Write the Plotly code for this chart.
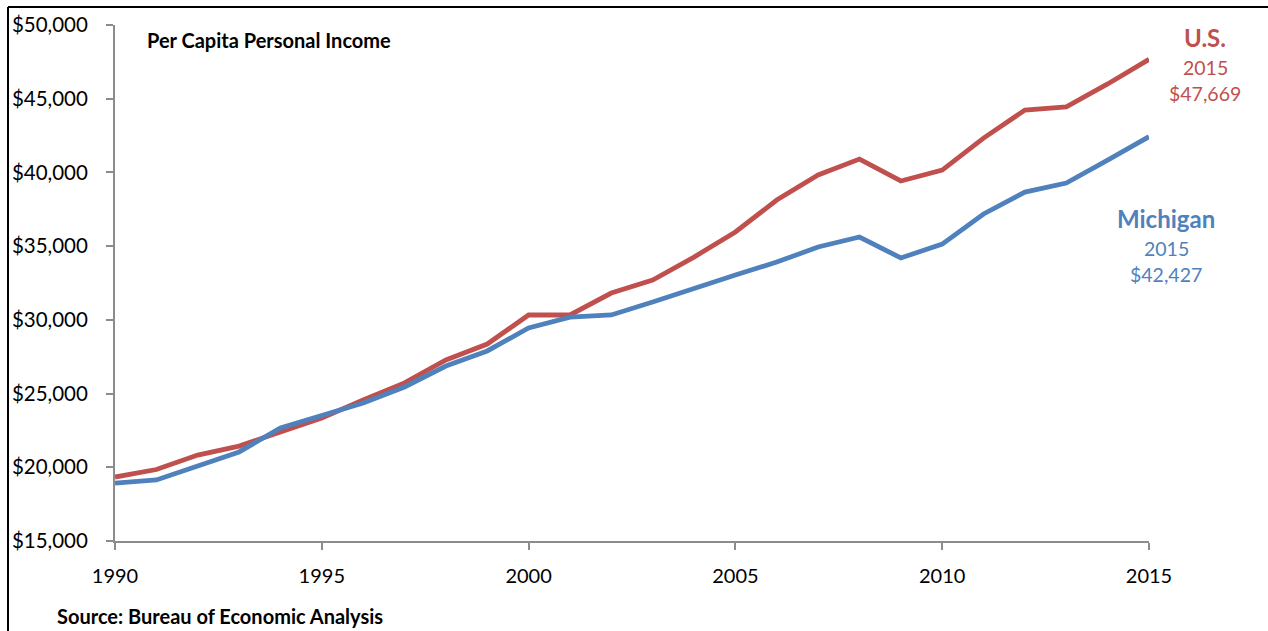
import plotly.graph_objects as go

years = list(range(1990, 2016))
us_income = [19340, 19850, 20830, 21440, 22390, 23340, 24560, 25720, 27280, 28360,
             30330, 30330, 31820, 32700, 34260, 35960, 38130, 39830, 40910, 39420,
             40160, 42330, 44230, 44440, 46000, 47669]
mi_income = [18930, 19140, 20090, 21040, 22670, 23550, 24360, 25450, 26870, 27890,
             29450, 30190, 30330, 31210, 32160, 33040, 33920, 34940, 35620, 34200,
             35140, 37180, 38670, 39280, 40840, 42427]
y_ticks = [15000, 20000, 25000, 30000, 35000, 40000, 45000, 50000]
x_ticks = [1990, 1995, 2000, 2005, 2010, 2015]

RED = "#C0504D"
BLUE = "#4F81BD"
FONT = "Lato, 'Open Sans', sans-serif"

fig = go.Figure()
fig.add_trace(go.Scatter(x=years, y=us_income, mode="lines", name="U.S.",
                         line=dict(color=RED, width=4.8)))
fig.add_trace(go.Scatter(x=years, y=mi_income, mode="lines", name="Michigan",
                         line=dict(color=BLUE, width=4.8)))

W, H = 1268, 631
L, R, T, B = 115, 119, 25, 90
pw, ph = W - L - R, H - T - B

def px(xp):
    return (xp - L) / pw

def py(yp):
    return (H - B - yp) / ph

fig.update_layout(
    width=W, height=H,
    margin=dict(l=L, r=R, t=T, b=B),
    paper_bgcolor="white", plot_bgcolor="white",
    showlegend=False,
    font=dict(family=FONT, color="black"),
    xaxis=dict(range=[1990, 2015], tickvals=x_ticks, ticktext=[str(v) for v in x_ticks],
               showgrid=False, zeroline=False, showline=True, linecolor="#8c8c8c", linewidth=2,
               ticks="outside", ticklen=7, tickwidth=2, tickcolor="#8c8c8c",
               tickfont=dict(size=20, family=FONT, color="black"), ticklabelstandoff=9),
    yaxis=dict(range=[15000, 50000], tickvals=y_ticks,
               ticktext=[f"${v:,}" for v in y_ticks],
               showgrid=False, zeroline=False, showline=True, linecolor="#8c8c8c", linewidth=2,
               ticks="outside", ticklen=7, tickwidth=2, tickcolor="#8c8c8c",
               tickfont=dict(size=20.5, family=FONT, color="black"), ticklabelstandoff=14),
)

# frame lines (top and left)
fig.add_shape(type="line", xref="paper", yref="paper", x0=px(8), x1=px(W + 5), y0=py(7), y1=py(7),
              line=dict(color="black", width=2))
fig.add_shape(type="line", xref="paper", yref="paper", x0=px(8), x1=px(8), y0=py(7), y1=py(H + 5),
              line=dict(color="black", width=2))

fig.add_annotation(xref="paper", yref="paper", x=px(145), y=py(40), xanchor="left", yanchor="middle",
                   text="<b>Per Capita Personal Income</b>", showarrow=False,
                   font=dict(size=20, family=FONT, color="black"))
fig.add_annotation(xref="paper", yref="paper", x=px(55), y=py(616), xanchor="left", yanchor="middle",
                   text="<b>Source: Bureau of Economic Analysis</b>", showarrow=False,
                   font=dict(size=20, family=FONT, color="black"))

def label(name, year, value, color, xc, y0):
    fig.add_annotation(xref="paper", yref="paper", x=px(xc), y=py(y0), xanchor="center", yanchor="middle",
                       text=f"<b>{name}</b>", showarrow=False, font=dict(size=24, family=FONT, color=color))
    fig.add_annotation(xref="paper", yref="paper", x=px(xc), y=py(y0 + 30), xanchor="center", yanchor="middle",
                       text=str(year), showarrow=False, font=dict(size=19.5, family=FONT, color=color))
    fig.add_annotation(xref="paper", yref="paper", x=px(xc), y=py(y0 + 56), xanchor="center", yanchor="middle",
                       text=f"${value:,}", showarrow=False, font=dict(size=19.5, family=FONT, color=color))

label("U.S.", years[-1], us_income[-1], RED, 1205, 37)
label("Michigan", years[-1], mi_income[-1], BLUE, 1166, 218)

fig.write_html("out.html", config={"displayModeBar": False},
               post_script="document.body.style.margin='0';document.body.style.overflow='hidden';")
